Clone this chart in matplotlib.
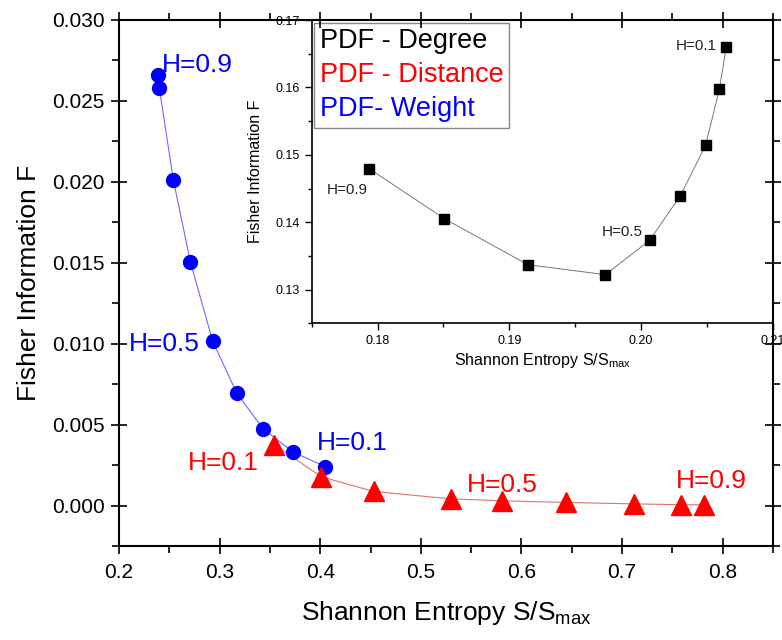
import matplotlib
matplotlib.use('Agg')
import matplotlib.pyplot as plt
from matplotlib.lines import Line2D
from matplotlib.ticker import MultipleLocator, FormatStrFormatter

plt.rcParams['font.family'] = ['Liberation Sans', 'DejaVu Sans']
plt.rcParams['mathtext.default'] = 'regular'

# main panel: PDF - Weight (blue circles)
weight_s = [0.239, 0.240, 0.254, 0.271, 0.293, 0.317, 0.343, 0.373, 0.405]
weight_f = [0.02661, 0.02582, 0.02011, 0.01504, 0.01017, 0.00695, 0.00475, 0.00330, 0.00241]

# main panel: PDF - Distance (red triangles)
dist_s = [0.354, 0.401, 0.453, 0.530, 0.581, 0.644, 0.712, 0.759, 0.781]
dist_f = [0.00377, 0.00178, 0.00087, 0.00041, 0.00029, 0.00019, 0.00010, 0.00005, 0.00004]

# inset: PDF - Degree (black squares)
deg_s = [0.17938, 0.18508, 0.19141, 0.19729, 0.20065, 0.20299, 0.20491, 0.20595, 0.20648]
deg_f = [0.14793, 0.14052, 0.13370, 0.13222, 0.13730, 0.14393, 0.15144, 0.15973, 0.16605]

# H annotations (text, x, y)
weight_notes = [('H=0.9', 0.2779, 0.02737), ('H=0.5', 0.2447, 0.01011), ('H=0.1', 0.4317, 0.00402)]
dist_notes = [('H=0.1', 0.3041, 0.00278), ('H=0.5', 0.5805, 0.00144), ('H=0.9', 0.7884, 0.00169)]
deg_notes = [('H=0.1', 0.20419, 0.1664), ('H=0.5', 0.19858, 0.13874), ('H=0.9', 0.1777, 0.14507)]

legend_labels = ['PDF - Degree', 'PDF - Distance', 'PDF- Weight']
legend_colors = ['black', 'red', 'blue']

fig = plt.figure(figsize=(7.82, 6.4), dpi=100)

# main axes
ax = fig.add_axes([0.1522, 0.1469, 0.8363, 0.8219])
ax.set_zorder(2)
ax.patch.set_alpha(0)
ax.plot(weight_s, weight_f, '-', color='#6a6aff', lw=0.8, zorder=2)
ax.plot(weight_s, weight_f, 'o', color='blue', ms=10, zorder=3)
ax.plot(dist_s, dist_f, '-', color='#e07070', lw=0.8, zorder=2)
ax.plot(dist_s, dist_f, '^', color='red', ms=14, zorder=3)
for t, x, y in weight_notes:
    ax.text(x, y, t, color='blue', fontsize=19, ha='center', va='center_baseline')
for t, x, y in dist_notes:
    ax.text(x, y, t, color='red', fontsize=19, ha='center', va='center_baseline')

ax.set_xlim(0.2, 0.85)
ax.set_ylim(-0.0025, 0.030)
ax.xaxis.set_major_locator(MultipleLocator(0.1))
ax.xaxis.set_minor_locator(MultipleLocator(0.05))
ax.yaxis.set_major_locator(MultipleLocator(0.005))
ax.yaxis.set_minor_locator(MultipleLocator(0.0025))
ax.xaxis.set_major_formatter(FormatStrFormatter('%.1f'))
ax.yaxis.set_major_formatter(FormatStrFormatter('%.3f'))
ax.tick_params(which='both', top=True, right=True, labelsize=15, width=1.2)
ax.tick_params(which='major', direction='inout', length=11)
ax.tick_params(axis='x', which='major', pad=7)
ax.tick_params(axis='y', which='major', pad=5)
ax.tick_params(which='minor', direction='out', length=5)
for sp in ax.spines.values():
    sp.set_linewidth(1.5)
ax.set_xlabel('Shannon Entropy S/S$_{max}$', fontsize=19, labelpad=12)
ax.set_ylabel('Fisher Information F', fontsize=19, labelpad=8)

# inset
ins = fig.add_axes([0.3986, 0.4948, 0.5895, 0.4739])
ins.set_zorder(1)
ins.plot(deg_s, deg_f, '-', color='#777777', lw=0.7)
ins.plot(deg_s, deg_f, 's', color='black', ms=7)
for t, x, y in deg_notes:
    ins.text(x, y, t, color='#222222', fontsize=11, ha='center', va='center_baseline')
ins.set_xlim(0.175, 0.21)
ins.set_ylim(0.125, 0.17)
ins.xaxis.set_major_locator(MultipleLocator(0.01))
ins.xaxis.set_minor_locator(MultipleLocator(0.005))
ins.yaxis.set_major_locator(MultipleLocator(0.01))
ins.yaxis.set_minor_locator(MultipleLocator(0.005))
ins.xaxis.set_major_formatter(FormatStrFormatter('%.2f'))
ins.yaxis.set_major_formatter(FormatStrFormatter('%.2f'))
ins.tick_params(which='both', direction='out', labelsize=9, width=1, colors='black')
ins.tick_params(which='major', length=5)
ins.tick_params(which='minor', length=3)
for sp in ins.spines.values():
    sp.set_linewidth(1.2)
ins.set_xlabel('Shannon Entropy S/S$_{max}$', fontsize=11.5, labelpad=3)
ins.set_ylabel('Fisher Information F', fontsize=11.5, labelpad=9)

handles = [Line2D([], [], linestyle='none') for _ in legend_labels]
leg = ins.legend(handles, legend_labels, labelcolor=legend_colors, loc='upper left',
                 fontsize=19.5, handlelength=0, handletextpad=0, labelspacing=0.3,
                 borderpad=0.2, borderaxespad=0.1, fancybox=False, framealpha=1,
                 edgecolor='#888888')
leg.get_frame().set_linewidth(1)

plt.savefig('out.png', dpi=100)
